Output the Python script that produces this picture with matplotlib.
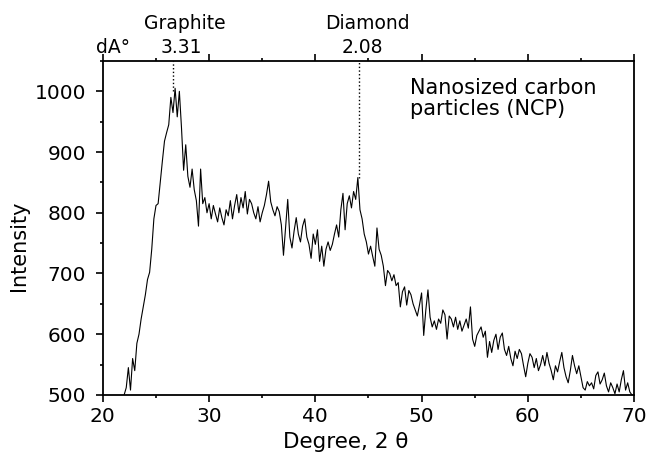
import numpy as np
import matplotlib
matplotlib.use("Agg")
import matplotlib.pyplot as plt
from matplotlib.ticker import MultipleLocator

# ------------------------------------------------------------
# DATA (0.2 deg steps from 22 to 70)
# ------------------------------------------------------------
two_theta = np.round(np.arange(22.0, 70.01, 0.2), 1)

intensity = [
    500, 512, 545, 508, 560, 540, 585, 600, 625, 645,   # 22.0 - 23.8
    665, 690, 702, 740, 790, 812, 815, 850, 885, 918,   # 24.0 - 25.8
    932, 945, 990, 965, 1005, 958, 1000, 940, 870, 912,  # 26.0 - 27.8
    860, 842, 872, 838, 820, 778, 872, 815, 825, 800,   # 28.0 - 29.8
    815, 790, 812, 798, 785, 808, 792, 780, 805, 795,   # 30.0 - 31.8
    820, 790, 812, 830, 800, 825, 808, 835, 798, 822,   # 32.0 - 33.8
    815, 800, 790, 810, 785, 800, 812, 830, 852, 818,   # 34.0 - 35.8
    805, 795, 810, 802, 780, 730, 775, 822, 760, 742,   # 36.0 - 37.8
    770, 792, 765, 752, 778, 790, 760, 748, 725, 765,   # 38.0 - 39.8
    748, 772, 720, 745, 712, 740, 752, 738, 748, 765,   # 40.0 - 41.8
    780, 760, 805, 832, 772, 815, 828, 808, 835, 822,   # 42.0 - 43.8
    858, 805, 790, 765, 752, 732, 745, 728, 712, 775,   # 44.0 - 45.8
    740, 730, 712, 680, 705, 700, 688, 698, 680, 685,   # 46.0 - 47.8
    645, 670, 678, 648, 672, 665, 650, 640, 630, 648,   # 48.0 - 49.8
    668, 598, 640, 673, 628, 612, 622, 608, 625, 618,   # 50.0 - 51.8
    640, 632, 592, 630, 625, 612, 628, 608, 622, 605,   # 52.0 - 53.8
    615, 625, 610, 645, 592, 580, 598, 605, 612, 595,   # 54.0 - 55.8
    605, 562, 588, 570, 590, 600, 575, 595, 602, 575,   # 56.0 - 57.8
    565, 580, 560, 548, 572, 560, 575, 568, 548, 530,   # 58.0 - 59.8
    552, 568, 562, 545, 560, 540, 550, 565, 548, 570,   # 60.0 - 61.8
    552, 540, 525, 548, 538, 555, 570, 545, 530, 520,   # 62.0 - 63.8
    540, 565, 548, 535, 548, 530, 512, 508, 522, 515,   # 64.0 - 65.8
    520, 510, 532, 538, 518, 525, 536, 515, 505, 520,   # 66.0 - 67.8
    512, 502, 518, 505, 525, 540, 508, 520, 505, 500,   # 68.0 - 69.8
    500,                                                # 70.0
]

# marked reflections
peak_names = ["Graphite", "Diamond"]
peak_d = ["3.31", "2.08"]
peak_pos = [26.6, 44.1]
peak_top = [1000, 858]
# where the labels sit above the top axis
name_pos = [27.7, 44.9]
d_pos = [27.4, 44.4]

# ------------------------------------------------------------
# STYLE
# ------------------------------------------------------------
plt.rcParams.update({
    "font.family": ["DejaVu Sans"],
    "font.size": 14,
    "xtick.labelsize": 14.5,
    "ytick.labelsize": 14.5,
})

fig = plt.figure(figsize=(6.47, 4.55), dpi=100)
ax = fig.add_axes([0.159, 0.132, 0.821, 0.734])

ax.plot(two_theta, intensity, color="black", linewidth=0.8)

for pos, top in zip(peak_pos, peak_top):
    ax.plot([pos, pos], [top, 1050], color="black", linestyle=":", linewidth=1.0)

ax.set_xlim(20, 70)
ax.set_ylim(500, 1050)

ax.xaxis.set_major_locator(MultipleLocator(10))
ax.xaxis.set_minor_locator(MultipleLocator(5))
ax.yaxis.set_major_locator(MultipleLocator(100))
ax.yaxis.set_minor_locator(MultipleLocator(50))

ax.tick_params(which="both", direction="out", top=True, right=False,
               labeltop=False, width=1.2)
ax.tick_params(which="major", length=5)
ax.tick_params(which="minor", length=2.5)
ax.tick_params(axis="y", which="major", pad=7)
ax.tick_params(axis="x", which="major", pad=4)

for sp in ax.spines.values():
    sp.set_linewidth(1.3)

ax.set_xlabel("Degree, 2 \u03b8", fontsize=15.5)
ax.set_ylabel("Intensity", fontsize=15)
ax.xaxis.set_label_coords(0.458, -0.112)
ax.yaxis.set_label_coords(-0.14, 0.446)

# top annotations
tr = ax.get_xaxis_transform()
ax.text(21.0, 1.024, "dA\u00b0", transform=tr, ha="center",
        va="baseline", fontsize=13.5)
for name, d, npos, dpos in zip(peak_names, peak_d, name_pos, d_pos):
    ax.text(dpos, 1.024, d, transform=tr, ha="center", va="baseline",
            fontsize=13.5)
    ax.text(npos, 1.095, name, transform=tr, ha="center", va="baseline",
            fontsize=13.5)

ax.text(0.578, 0.95, "Nanosized carbon\nparticles (NCP)",
        transform=ax.transAxes, ha="left", va="top", fontsize=15,
        linespacing=1.1)

fig.savefig("out.png", dpi=100)
